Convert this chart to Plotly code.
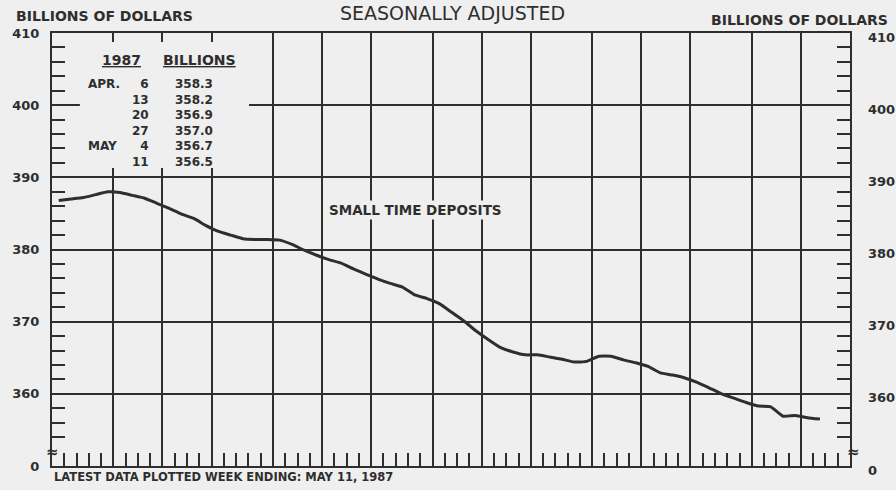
import numpy as np
import plotly.graph_objects as go

# ---------------- data ----------------
MONTHS = ["MAR", "APR", "MAY", "JUN", "JUL", "AUG", "SEP", "OCT", "NOV", "DEC",
          "JAN", "FEB", "MAR", "APR", "MAY"]
WEEKS_IN_MONTH = [5, 4, 4, 5, 4, 4, 5, 4, 4, 5, 4, 4, 5, 4, 4]

# weekly small time deposits, billions of dollars (weeks ending Mar 3, 1986 .. May 11, 1987)
VALUES = [386.8, 387.0, 387.2, 387.6, 388.0, 387.9, 387.5, 387.1, 386.4, 385.7,
          384.9, 384.3, 383.3, 382.5, 382.0, 381.5, 381.4, 381.4, 381.3, 380.7,
          379.9, 379.2, 378.6, 378.1, 377.3, 376.6, 375.9, 375.3, 374.8, 373.7,
          373.2, 372.5, 371.3, 370.1, 368.7, 367.5, 366.4, 365.8, 365.4, 365.4,
          365.1, 364.8, 364.4, 364.5, 365.2, 365.2, 364.7, 364.3, 363.8, 362.9,
          362.6, 362.2, 361.6, 360.8, 360.0, 359.4, 358.8,
          358.3, 358.2, 356.9, 357.0, 356.7, 356.5]

TABLE_MONTHS = ["APR.", "", "", "", "MAY", ""]
TABLE_DAYS = [6, 13, 20, 27, 4, 11]
TABLE_VALUES = VALUES[-6:]

Y_TICKS = [350, 360, 370, 380, 390, 400, 410]
Y_TICK_TEXT = ["0", "360", "370", "380", "390", "400", "410"]
Y_BREAK = 352

SERIES_LABEL = "SMALL TIME DEPOSITS"
UNIT_LABEL = "BILLIONS OF DOLLARS"
TITLE_TOP = "AVERAGES OF DAILY FIGURES"
TITLE = "SEASONALLY ADJUSTED"
FOOTNOTE = "LATEST DATA PLOTTED WEEK ENDING: MAY 11, 1987"

# ---------------- styling ----------------
BG = "#efefef"
INK = "#2e2e2e"
FONT = "DejaVu Sans"
W, H = 896, 490
ML, MR, MT, MB = 48, 46, 33, 24
PW, PH = W - ML - MR, H - MT - MB


def px(x):
    return (x - ML) / PW


def py(y):
    return (H - MB - y) / PH


n_weeks = int(np.sum(WEEKS_IN_MONTH))
boundaries = list(np.cumsum(WEEKS_IN_MONTH)[:-1])
x_pos = np.arange(len(VALUES)) + 0.55
y_minor = [v for v in range(Y_TICKS[0] + 2, Y_TICKS[-1], 2) if v % 10 != 0 and v != Y_BREAK]

fig = go.Figure()
fig.add_trace(go.Scatter(x=x_pos, y=VALUES, mode="lines",
                         line=dict(color=INK, width=3, shape="spline", smoothing=0.4),
                         hoverinfo="skip", showlegend=False))
fig.add_trace(go.Scatter(x=x_pos, y=VALUES, mode="lines", yaxis="y2",
                         line=dict(color="rgba(0,0,0,0)", width=0),
                         hoverinfo="skip", showlegend=False))

tickfont = dict(family=FONT, size=13, color=INK, weight="bold")
minor_y = dict(tickmode="array", tickvals=y_minor, ticks="inside", ticklen=13,
               tickwidth=1.6, tickcolor=INK, showgrid=False)

fig.update_layout(
    width=W, height=H,
    margin=dict(l=ML, r=MR, t=MT, b=MB),
    paper_bgcolor=BG, plot_bgcolor=BG,
    xaxis=dict(range=[0, n_weeks], tickmode="array", tickvals=boundaries,
               showticklabels=False, ticks="", showgrid=True, gridcolor=INK,
               gridwidth=1.6, zeroline=False, showline=True, linecolor=INK,
               linewidth=2, mirror=True,
               minor=dict(tickmode="array", tickvals=list(range(1, n_weeks)),
                          ticks="inside", ticklen=13, tickwidth=1.6,
                          tickcolor=INK, showgrid=False)),
    yaxis=dict(range=[Y_TICKS[0], Y_TICKS[-1]], tickmode="array", tickvals=Y_TICKS,
               ticktext=Y_TICK_TEXT, ticks="", showgrid=True, gridcolor=INK,
               gridwidth=1.6, zeroline=False, showline=True, linecolor=INK,
               linewidth=2, mirror=True, tickfont=tickfont,
               ticklabelstandoff=8, minor=minor_y),
    yaxis2=dict(range=[Y_TICKS[0], Y_TICKS[-1]], overlaying="y", side="right",
                tickmode="array", tickvals=Y_TICKS, showticklabels=False,
                ticks="", showgrid=False, zeroline=False, showline=False,
                minor=minor_y),
)

# inset box covering the grid
fig.add_shape(type="rect", xref="paper", yref="paper",
              x0=px(76), x1=px(246), y0=py(168), y1=py(42),
              fillcolor=BG, line=dict(width=0), layer="above")

ann = []


def text(x, y, s, size=13, bold=True, xanchor="center", bg=None,
         xref="paper", yref="paper", align="center", yshift=0):
    d = dict(x=x, y=y, xref=xref, yref=yref, text=s, showarrow=False,
             xanchor=xanchor, yanchor="middle", align=align, yshift=yshift,
             font=dict(family=FONT, size=size, color=INK,
                       weight="bold" if bold else "normal"))
    if bg:
        d.update(bgcolor=bg, borderpad=1)
    ann.append(d)


text(px(10), py(16), UNIT_LABEL, 14, xanchor="left")
text(px(890), py(20), UNIT_LABEL, 14, xanchor="right")
text(px(446), py(-6.5), TITLE_TOP, 19, bold=False)
text(px(451), py(12.5), TITLE, 19, bold=False)
text(px(413), py(210), SERIES_LABEL, 13.5, bg=BG)
text(px(48), py(477), FOOTNOTE, 11.5, xanchor="left")
text(0, Y_BREAK, "\u2248", 15, xref="paper", yref="y")
text(1.004, Y_BREAK, "\u2248", 15, xref="paper", yref="y")

# right-hand tick labels (sit a little low on the scanned original)
for v, t in zip(Y_TICKS, Y_TICK_TEXT):
    text(px(866), v, t, 13, xanchor="left", yref="y", yshift=-4)

# inset table
TS = 12
LS = TS * 1.3
r0 = 84
block_mid = r0 + LS * (len(TABLE_DAYS) - 1) / 2
text(px(117.5), py(60), "<u>1987</u>", 14)
text(px(196), py(60), "<u>BILLIONS</u>", 14)
for i, m in enumerate(TABLE_MONTHS):
    if m:
        text(px(82), py(r0 + i * LS), m, TS, xanchor="left")
text(px(147), py(block_mid), "<br>".join(str(d) for d in TABLE_DAYS), TS,
     xanchor="right", align="right")
text(px(170), py(block_mid), "<br>".join(f"{v:.1f}" for v in TABLE_VALUES), TS,
     xanchor="left", align="left")

fig.update_layout(annotations=ann)
fig.write_html("out.html", post_script="document.body.style.margin='0';",
               config={"displayModeBar": False})
